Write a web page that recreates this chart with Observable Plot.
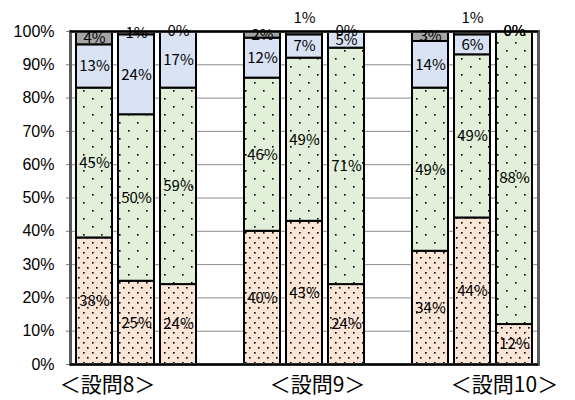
<!DOCTYPE html>
<html>
<head>
<meta charset="utf-8">
<script src="https://cdn.jsdelivr.net/npm/d3@7"></script>
<script src="https://cdn.jsdelivr.net/npm/@observablehq/plot@0.6"></script>
<style>
  html, body { margin: 0; padding: 0; background: #fff; }
  #chart svg { display: block; }
</style>
</head>
<body>
<div id="chart"></div>
<script>
// Question groups shown under the bars, three bars per group
const groups = ["＜設問8＞", "＜設問9＞", "＜設問10＞"];
const barsPerGroup = 3;

// Stack segments, bottom to top
const series = ["lower", "middle", "upper", "top"];

// Percentages for the nine bars (group by group, left to right)
const lowerValues  = [38, 25, 24, 40, 43, 24, 34, 44, 12];
const middleValues = [45, 50, 59, 46, 49, 71, 49, 49, 88];
const upperValues  = [13, 24, 17, 12, 7, 5, 14, 6, 0];
const topValues    = [4, 1, 0, 2, 1, 0, 3, 1, 0];

// Y axis ticks (percent)
const yTicks = [0, 10, 20, 30, 40, 50, 60, 70, 80, 90, 100];

// ---- build the band slots: three bars per group, one empty slot between groups
const slots = [];
groups.forEach((g, gi) => {
  for (let b = 1; b <= barsPerGroup; b++) slots.push(`${g}-${b}`);
  if (gi < groups.length - 1) slots.push(`${g}-gap`);
});

const valuesBySeries = {lower: lowerValues, middle: middleValues, upper: upperValues, top: topValues};
const rows = [];
groups.forEach((g, gi) => {
  for (let b = 0; b < barsPerGroup; b++) {
    const i = gi * barsPerGroup + b;
    for (const s of series) rows.push({slot: `${g}-${b + 1}`, series: s, value: valuesBySeries[s][i]});
  }
});

// Small top labels that sit above the frame
const liftedSlots = new Set([`${groups[1]}-2`, `${groups[2]}-2`]);
const isLifted = d => d.series === "top" && liftedSlots.has(d.slot);

// Horizontal nudges for the group captions
const groupLabelDx = [-29, 13, 32];

const labelFont = "'Noto Sans CJK JP', 'Liberation Sans', sans-serif";

const chart = Plot.plot({
  width: 575,
  height: 400,
  marginLeft: 70,
  marginRight: 37,
  marginTop: 31,
  marginBottom: 36,
  style: {fontFamily: labelFont, background: "#fff", overflow: "visible"},
  x: {type: "band", domain: slots, paddingInner: 0.14, paddingOuter: 0.07, axis: null},
  y: {domain: [0, 100], axis: null, label: null},
  color: {domain: series, range: series.map(s => `url(#pat-${s})`)},
  marks: [
    Plot.ruleY(yTicks.filter(t => t > 0 && t < 100), {stroke: "#8c8c8c", strokeWidth: 1}),
    Plot.axisY({
      ticks: yTicks,
      tickFormat: d => `${d}%`,
      label: null,
      tickSize: 4,
      tickPadding: 12,
      stroke: "#7f7f7f",
      fontSize: 16,
      fontFamily: "'Liberation Sans', Arial, sans-serif",
      fill: "#000"
    }),
    Plot.barY(rows, {x: "slot", y: "value", fill: "series", stroke: "#000", strokeWidth: 2}),
    Plot.frame({stroke: "#595959", strokeWidth: 3}),
    Plot.ruleY([0, 100], {stroke: "#000", strokeWidth: 2}),
    Plot.text(rows, Plot.stackY({
      x: "slot", y: "value",
      text: d => isLifted(d) ? "" : `${d.value}%`,
      fontSize: 15, fill: "#000"
    })),
    Plot.text(rows, Plot.stackY({
      x: "slot", y: "value",
      text: d => isLifted(d) ? `${d.value}%` : "",
      dy: -15, fontSize: 15, fill: "#000"
    })),
    ...groups.map((g, gi) => Plot.text([g], {
      x: () => `${g}-2`,
      text: d => d,
      frameAnchor: "bottom",
      dy: 27,
      dx: groupLabelDx[gi],
      fontSize: 21,
      fill: "#000"
    }))
  ]
});

// Dotted fill patterns for the stacked segments
const defs = d3.select(chart).insert("defs", ":first-child");
function dotPattern(id, base, w, h, dots) {
  const p = defs.append("pattern")
    .attr("id", id).attr("patternUnits", "userSpaceOnUse")
    .attr("width", w).attr("height", h);
  p.append("rect").attr("width", w).attr("height", h).attr("fill", base);
  for (const [x, y] of dots) {
    p.append("rect").attr("x", x).attr("y", y).attr("width", 1.6).attr("height", 1.6).attr("fill", "#000");
  }
}
dotPattern("pat-lower", "#fbe5d6", 9, 10, [[2, 2], [6, 7]]);
dotPattern("pat-middle", "#e2f0d9", 18, 16, [[2, 2], [11, 10]]);
dotPattern("pat-upper", "#dae3f3", 4, 4, []);
dotPattern("pat-top", "#a5a5a5", 4, 4, []);

document.getElementById("chart").appendChild(chart);
</script>
</body>
</html>
